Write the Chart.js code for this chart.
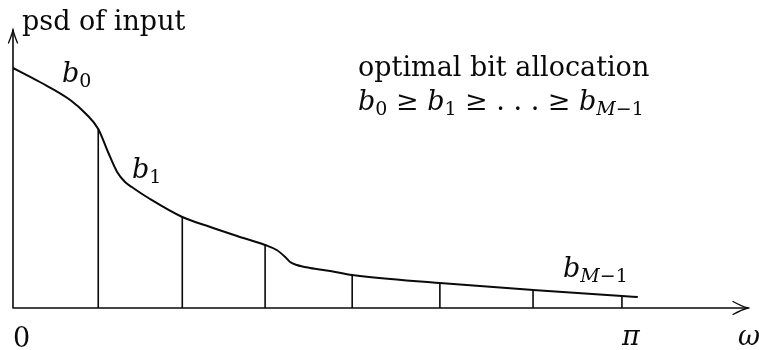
<!DOCTYPE html>
<html>
<head>
<meta charset="utf-8">
<script src="https://cdn.jsdelivr.net/npm/chart.js@4"></script>
<style>
  html, body { margin: 0; padding: 0; background: #fff; }
  #wrap { width: 759px; height: 350px; }
</style>
</head>
<body>
<div id="wrap"><canvas id="c" width="759" height="350"></canvas></div>
<script>
// Frequency ω in units of π, and the input power spectral density (arbitrary units)
const omega = [0, 0.044, 0.094, 0.120, 0.140, 0.156, 0.171, 0.184, 0.195, 0.225, 0.278, 0.324, 0.368,
               0.414, 0.433, 0.447, 0.455, 0.466, 0.488, 0.521, 0.557, 0.701, 0.854, 1.0, 1.026];
const psd   = [2.40, 2.26, 2.08, 1.94, 1.79, 1.56, 1.36, 1.26, 1.21, 1.09, 0.91, 0.81, 0.72,
               0.63, 0.58, 0.51, 0.46, 0.43, 0.40, 0.37, 0.33, 0.25, 0.18, 0.12, 0.11];

// Subband boundaries (units of π)
const bandEdges = [0.140, 0.278, 0.414, 0.557, 0.701, 0.854, 1.0];

// Frequency axis tick marks
const tickValues = [0, 1];
const tickLabels = ['0', 'π'];

// Axis extents
const xMax = 1.207;
const yMax = 2.78;

const psdAt = (w) => psd[omega.indexOf(w)];

const curve = omega.map((x, i) => ({ x, y: psd[i] }));
const edgeLines = [];
bandEdges.forEach((e) => {
  edgeLines.push({ x: e, y: 0 }, { x: e, y: psdAt(e) }, { x: e, y: null });
});

const INK = '#0a0a0a';
const SERIF = '"DejaVu Serif", "Liberation Serif", serif';
const F_MAIN = `27px ${SERIF}`;
const F_IT = `italic 27px ${SERIF}`;
const F_SUB = `19px ${SERIF}`;
const F_SUB_IT = `italic 19px ${SERIF}`;

// Draw a sequence of text runs left to right
function drawRuns(ctx, x, y, runs) {
  let cx = x;
  runs.forEach((r) => {
    ctx.font = r.font;
    ctx.fillText(r.t, cx, y + (r.dy || 0));
    cx += ctx.measureText(r.t).width;
  });
}
const b = (sub) => [
  { t: 'b', font: F_IT },
  { t: sub, font: F_SUB, dy: 5 }
];
const bLast = () => [
  { t: 'b', font: F_IT },
  { t: 'M', font: F_SUB_IT, dy: 5 },
  { t: '−1', font: F_SUB, dy: 5 }
];

const axesAndText = {
  id: 'axesAndText',
  afterDatasetsDraw(chart) {
    const { ctx, scales } = chart;
    const xs = scales.x, ys = scales.y;
    const x0 = xs.getPixelForValue(0), y0 = ys.getPixelForValue(0);
    const xEnd = xs.getPixelForValue(xMax), yEnd = ys.getPixelForValue(yMax);

    ctx.save();
    ctx.strokeStyle = INK;
    ctx.fillStyle = INK;
    ctx.lineWidth = 1.6;
    ctx.lineCap = 'round';

    // axes
    ctx.beginPath();
    ctx.moveTo(x0, y0); ctx.lineTo(xEnd, y0);
    ctx.moveTo(x0, y0); ctx.lineTo(x0, yEnd);
    ctx.stroke();

    // arrow heads
    ctx.lineWidth = 1.3;
    ctx.beginPath();
    ctx.moveTo(xEnd - 15, y0 - 6.5);
    ctx.quadraticCurveTo(xEnd - 6, y0 - 1.5, xEnd, y0);
    ctx.quadraticCurveTo(xEnd - 6, y0 + 1.5, xEnd - 15, y0 + 6.5);
    ctx.moveTo(x0 - 4.5, yEnd + 13);
    ctx.quadraticCurveTo(x0 - 1.2, yEnd + 5, x0, yEnd);
    ctx.quadraticCurveTo(x0 + 1.2, yEnd + 5, x0 + 4.5, yEnd + 13);
    ctx.stroke();

    ctx.textBaseline = 'alphabetic';
    ctx.textAlign = 'left';

    // axis titles
    ctx.font = F_MAIN;
    ctx.fillText('psd of input', x0 + 9, 30);
    ctx.font = F_IT;
    ctx.fillText('ω', xEnd - 10, 345);

    // tick labels
    tickValues.forEach((v, i) => {
      const px = xs.getPixelForValue(v);
      ctx.font = tickLabels[i] === 'π' ? F_IT : F_MAIN;
      ctx.fillText(tickLabels[i], px, i === 0 ? 347 : 345);
    });

    // band labels
    drawRuns(ctx, 62, 82, b('0'));
    drawRuns(ctx, 132, 178, b('1'));
    drawRuns(ctx, 563, 277, bLast());

    // annotation
    ctx.font = F_MAIN;
    ctx.fillText('optimal bit allocation', 358, 76);
    drawRuns(ctx, 358, 110, [
      ...b('0'),
      { t: ' ≥ ', font: F_MAIN },
      ...b('1'),
      { t: ' ≥ . . . ≥ ', font: F_MAIN },
      ...bLast()
    ]);
    ctx.restore();
  }
};

new Chart(document.getElementById('c'), {
  type: 'line',
  data: {
    datasets: [
      {
        data: curve,
        borderColor: INK,
        borderWidth: 2,
        pointRadius: 0,
        cubicInterpolationMode: 'monotone',
        fill: false
      },
      {
        data: edgeLines,
        borderColor: INK,
        borderWidth: 1.6,
        pointRadius: 0,
        tension: 0,
        spanGaps: false,
        fill: false
      }
    ]
  },
  options: {
    responsive: false,
    animation: false,
    events: [],
    layout: { padding: { left: 13, right: 11, top: 30, bottom: 42 } },
    plugins: { legend: { display: false }, tooltip: { enabled: false } },
    scales: {
      x: { type: 'linear', min: 0, max: xMax, display: false },
      y: { type: 'linear', min: 0, max: yMax, display: false }
    }
  },
  plugins: [axesAndText]
});
</script>
</body>
</html>
